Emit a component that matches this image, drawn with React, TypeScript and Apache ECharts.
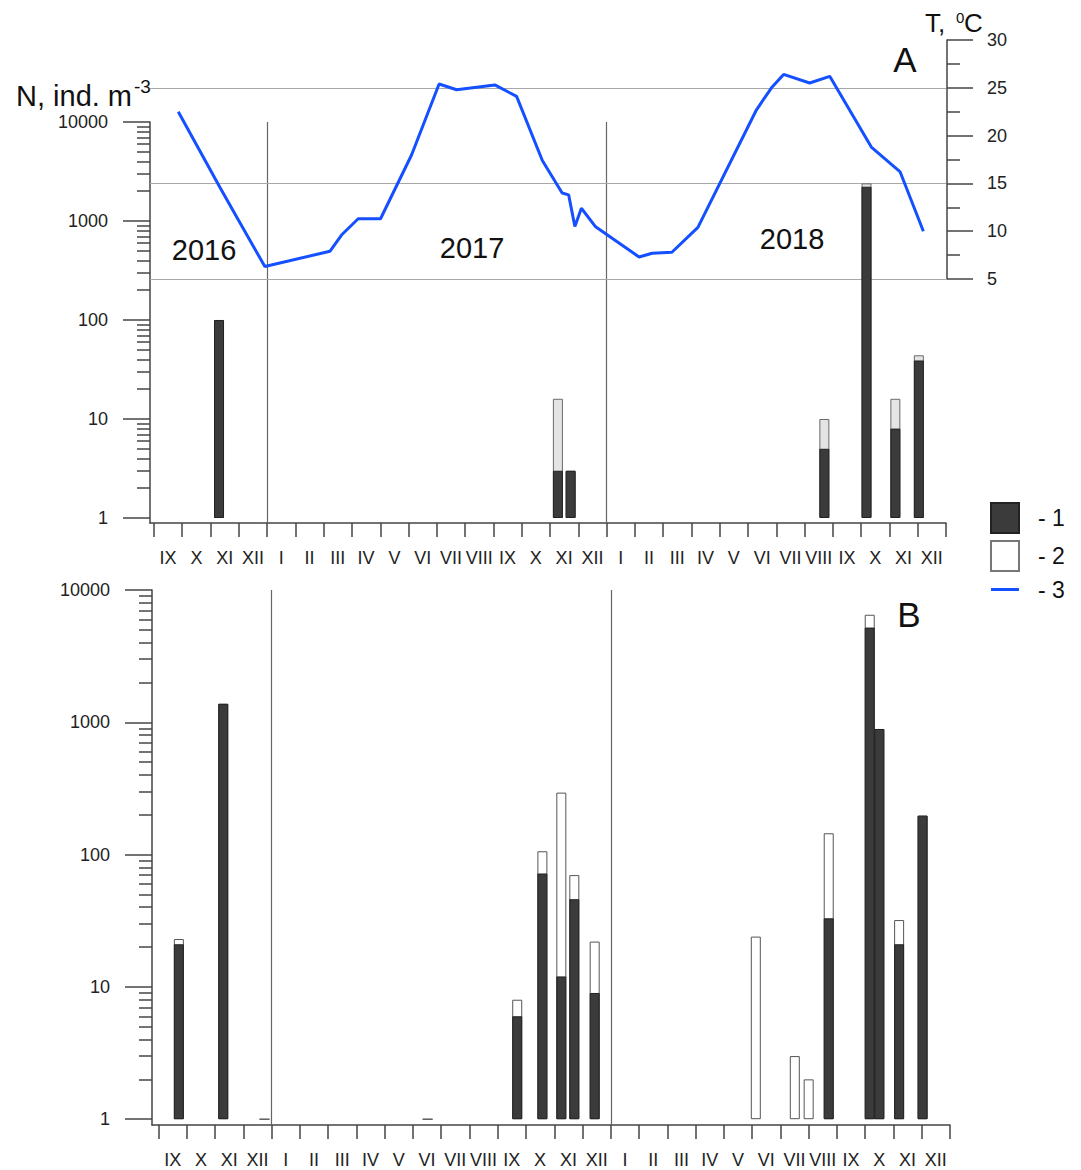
import React, { useEffect, useRef } from 'react';
import * as echarts from 'echarts';

const FONT = '"Liberation Sans", Arial, Helvetica, sans-serif';
const AXIS = '#444444';
const BLUE = '#1450ff';

// Month labels along both x axes: IX 2016 ... XII 2018 (28 months)
const monthLabels = [
  'IX', 'X', 'XI', 'XII',
  'I', 'II', 'III', 'IV', 'V', 'VI', 'VII', 'VIII', 'IX', 'X', 'XI', 'XII',
  'I', 'II', 'III', 'IV', 'V', 'VI', 'VII', 'VIII', 'IX', 'X', 'XI', 'XII',
];
const yearLabels = ['2016', '2017', '2018'];
const yearBoundaryMonths = [4, 16];

const logMajorTicks = [1, 10, 100, 1000, 10000];
const logMinorTicks = [
  2, 3, 4, 5, 6, 7, 8, 9,
  20, 30, 40, 50, 60, 70, 80, 90,
  200, 300, 400, 500, 600, 700, 800, 900,
  2000, 3000, 4000, 5000, 6000, 7000, 8000, 9000,
];

// Temperature (series 3), position in months from IX 2016
const tempMonth = [
  0.86, 2.33, 2.98, 3.92, 6.22, 6.63, 7.22, 8.01, 9.11, 10.08, 10.7, 12.05, 12.82,
  13.73, 14.43, 14.66, 14.88, 15.11, 15.6, 17.15, 17.61, 18.31, 19.23, 21.3, 21.83,
  22.26, 23.18, 23.89, 25.36, 25.71, 26.38, 27.2,
];
const tempValue = [
  22.5, 14.6, 11.2, 6.3, 7.9, 9.6, 11.3, 11.3, 18.0, 25.4, 24.8, 25.3, 24.1,
  17.4, 14.0, 13.8, 10.5, 12.4, 10.5, 7.3, 7.7, 7.8, 10.4, 22.7, 25.0,
  26.4, 25.5, 26.2, 18.8, 17.9, 16.2, 10.0,
];

// Panel A: sampling positions (months) and abundances of groups 1 and 2
const aPosition = [2.3, 14.28, 14.73, 23.7, 25.19, 26.21, 27.04];
const aGroup1 = [100, 3, 3, 5, 2220, 8, 39];
const aGroup2 = [0, 13, 0, 5, 180, 8, 5];

// Panel B
const bPosition = [0.72, 2.29, 3.75, 9.52, 12.69, 13.58, 14.25, 14.71, 15.43, 21.13, 22.51, 23.0, 23.71, 25.16, 25.5, 26.2, 27.03];
const bGroup1 = [21, 1380, 0, 0, 6, 72, 12, 46, 9, 0, 0, 0, 33, 5200, 890, 21, 197];
const bGroup2 = [2, 0, 1, 1, 2, 34, 282, 24, 13, 24, 3, 2, 112, 1300, 0, 11, 0];

const monthTickValues = Array.from({ length: monthLabels.length + 1 }, (_, i) => i);
const monthLabelValues = monthLabels.map((_, i) => i + 0.5);

const totals = (pos: number[], g1: number[], g2: number[]) => pos.map((p, i) => [p, g1[i] + g2[i]]);
const darks = (pos: number[], g1: number[]) => pos.map((p, i) => [p, g1[i]]).filter((d) => d[1] > 0);

const lineStyle = { color: AXIS, width: 1.5 };

const monthAxis = (gridIndex: number, min: number) => ({
  type: 'value',
  gridIndex,
  min,
  max: 28,
  axisLine: { show: true, onZero: false, lineStyle },
  axisTick: { show: true, customValues: monthTickValues, length: 14, lineStyle },
  axisLabel: {
    show: true,
    customValues: monthLabelValues,
    formatter: (v: number) => monthLabels[Math.floor(v + 1e-6)] || '',
    margin: 26,
    fontSize: 18,
    color: '#222',
    fontFamily: FONT,
    hideOverlap: false,
  },
  splitLine: { show: false },
});

const logAxis = (gridIndex: number, min: number) => ({
  type: 'log',
  logBase: 10,
  gridIndex,
  min,
  max: 10000,
  position: 'left',
  axisLine: { show: true, onZero: false, lineStyle },
  axisTick: { show: true, customValues: logMajorTicks, length: 27, lineStyle },
  axisLabel: {
    show: true,
    customValues: logMajorTicks,
    formatter: (v: number) => String(Math.round(v)),
    margin: 42,
    fontSize: 18,
    color: '#222',
    fontFamily: FONT,
  },
  splitLine: { show: false },
});

const logMinorAxis = (gridIndex: number, min: number) => ({
  type: 'log',
  logBase: 10,
  gridIndex,
  min,
  max: 10000,
  position: 'left',
  axisLine: { show: false, onZero: false },
  axisTick: { show: true, customValues: logMinorTicks, length: 13, lineStyle },
  axisLabel: { show: false },
  splitLine: { show: false },
});

const txt = (text: string, x: number, y: number, size: number, align = 'center') => ({
  type: 'text',
  x,
  y,
  silent: true,
  style: {
    text,
    fontSize: size,
    fontFamily: FONT,
    fill: '#111',
    align,
    verticalAlign: 'middle',
    textAlign: align,
    textVerticalAlign: 'middle',
  },
});

const yearMarkLine = {
  silent: true,
  symbol: 'none',
  z: 1,
  label: { show: false },
  lineStyle: { color: '#666', width: 1.2, type: 'solid' },
  data: yearBoundaryMonths.map((m) => ({ xAxis: m })),
};

export default function App() {
  const ref = useRef<HTMLDivElement>(null);

  useEffect(() => {
    if (!ref.current) return;
    const chart = echarts.init(ref.current, undefined, { renderer: 'svg' });
    const option: any = {
      animation: false,
      backgroundColor: '#ffffff',
      textStyle: { fontFamily: FONT },
      grid: [
        { left: 150, right: 135, top: 122, height: 401 },
        { left: 152, right: 131, top: 590, height: 535 },
        { left: 150, right: 135, top: 40, height: 239 },
      ],
      xAxis: [
        monthAxis(0, -0.14),
        monthAxis(1, -0.23),
        { type: 'value', gridIndex: 2, min: -0.14, max: 28, show: false },
      ],
      yAxis: [
        logAxis(0, 0.89),
        logMinorAxis(0, 0.89),
        logAxis(1, 0.904),
        logMinorAxis(1, 0.904),
        {
          type: 'value',
          gridIndex: 2,
          position: 'right',
          min: 5,
          max: 30,
          interval: 5,
          offset: 1,
          axisLine: { show: true, onZero: false, lineStyle },
          axisTick: { show: true, length: 26, lineStyle },
          minorTick: { show: true, splitNumber: 2, length: 13, lineStyle },
          axisLabel: { margin: 40, fontSize: 18, color: '#222', fontFamily: FONT },
          splitLine: { show: false },
          minorSplitLine: { show: false },
        },
      ],
      legend: {
        orient: 'vertical',
        left: 990,
        top: 502,
        padding: 0,
        itemWidth: 28,
        itemHeight: 30,
        itemGap: 6,
        selectedMode: false,
        formatter: '- {name}',
        textStyle: { fontSize: 23, color: '#111', fontFamily: FONT, padding: [0, 0, 0, 14] },
        data: [
          { name: '1', icon: 'rect' },
          { name: '2', icon: 'rect', itemStyle: { color: '#ffffff', borderColor: '#777777', borderWidth: 2 } },
          { name: '3', icon: 'path://M0,0 L28,0 L28,3 L0,3 Z' },
        ],
      },
      series: [
        {
          name: '2',
          type: 'bar',
          xAxisIndex: 0,
          yAxisIndex: 0,
          data: totals(aPosition, aGroup1, aGroup2),
          barWidth: 10,
          barGap: '-100%',
          z: 2,
          itemStyle: { color: '#e4e4e4', borderColor: '#6a6a6a', borderWidth: 1 },
          markLine: yearMarkLine,
        },
        {
          name: '1',
          type: 'bar',
          xAxisIndex: 0,
          yAxisIndex: 0,
          data: darks(aPosition, aGroup1),
          barWidth: 10,
          barGap: '-100%',
          z: 3,
          itemStyle: { color: '#3b3b3b', borderColor: '#222222', borderWidth: 1 },
        },
        {
          name: '2',
          type: 'bar',
          xAxisIndex: 1,
          yAxisIndex: 2,
          data: totals(bPosition, bGroup1, bGroup2),
          barWidth: 10,
          barGap: '-100%',
          z: 2,
          itemStyle: { color: '#ffffff', borderColor: '#555555', borderWidth: 1 },
          markLine: yearMarkLine,
        },
        {
          name: '1',
          type: 'bar',
          xAxisIndex: 1,
          yAxisIndex: 2,
          data: darks(bPosition, bGroup1),
          barWidth: 10,
          barGap: '-100%',
          z: 3,
          itemStyle: { color: '#3b3b3b', borderColor: '#222222', borderWidth: 1 },
        },
        {
          name: '3',
          type: 'line',
          xAxisIndex: 2,
          yAxisIndex: 4,
          data: tempMonth.map((m, i) => [m, tempValue[i]]),
          showSymbol: false,
          symbol: 'none',
          color: BLUE,
          lineStyle: { color: BLUE, width: 3 },
          z: 5,
          markLine: {
            silent: true,
            symbol: 'none',
            z: 1,
            label: { show: false },
            lineStyle: { color: '#a8a8a8', width: 1.2, type: 'solid' },
            data: [{ yAxis: 25 }, { yAxis: 15 }, { yAxis: 5 }],
          },
        },
      ],
      graphic: [
        txt('N, ind. m', 16, 96, 29, 'left'),
        txt('-3', 134, 86, 19, 'left'),
        txt('T,', 925, 23, 26, 'left'),
        txt('0', 956, 17, 15, 'left'),
        txt('C', 964, 23, 26, 'left'),
        txt('A', 905, 59, 35),
        txt('B', 909, 614, 35),
        txt(yearLabels[0], 204, 250, 29),
        txt(yearLabels[1], 472, 248, 29),
        txt(yearLabels[2], 792, 239, 29),
      ],
    };
    chart.setOption(option);
    return () => chart.dispose();
  }, []);

  return (
    <div
      ref={ref}
      style={{ position: 'fixed', left: 0, top: 0, width: 1081, height: 1170, background: '#fff' }}
    />
  );
}
